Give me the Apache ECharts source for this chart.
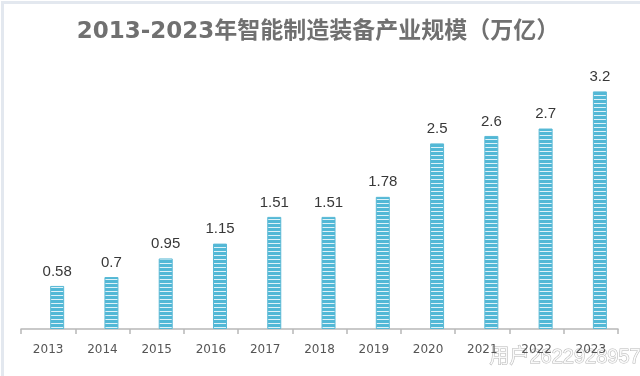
<!DOCTYPE html>
<html>
<head>
<meta charset="utf-8">
<script src="https://cdn.jsdelivr.net/npm/echarts@6/dist/echarts.min.js"></script>
<style>
  html, body { margin: 0; padding: 0; background: #fff; }
  #chart { width: 640px; height: 376px; }
</style>
</head>
<body>
<div id="chart"></div>
<script>
// data
var years = ['2013', '2014', '2015', '2016', '2017', '2018', '2019', '2020', '2021', '2022', '2023'];
var scale = [0.58, 0.7, 0.95, 1.15, 1.51, 1.51, 1.78, 2.5, 2.6, 2.7, 3.2];
var titleText = '2013-2023年智能制造装备产业规模（万亿）';
var watermark = '用户2622928957';

// striped fill for the bars
var stripe = document.createElement('canvas');
stripe.width = 4;
stripe.height = 4;
var sctx = stripe.getContext('2d');
sctx.fillStyle = '#dff2f8';
sctx.fillRect(0, 0, 4, 4);
sctx.fillStyle = '#52b8d6';
sctx.fillRect(0, 0, 4, 3);

var chart = echarts.init(document.getElementById('chart'));

chart.setOption({
  backgroundColor: '#ffffff',
  animation: false,
  title: {
    text: titleText,
    left: 313,
    top: 16,
    textAlign: 'center',
    textStyle: {
      fontFamily: 'DejaVu Sans, Noto Sans CJK SC',
      fontSize: 23,
      fontWeight: 'bold',
      color: '#707070'
    }
  },
  grid: { left: 21, right: 22, top: 32, bottom: 47 },
  xAxis: {
    type: 'category',
    data: years,
    axisLine: { lineStyle: { color: '#b8b8b8', width: 1.5 } },
    axisTick: { show: true, length: 5, lineStyle: { color: '#b8b8b8', width: 1.5 } },
    axisLabel: {
      margin: 15,
      fontFamily: 'DejaVu Sans',
      fontSize: 12,
      color: '#555'
    }
  },
  yAxis: {
    type: 'value',
    min: 0,
    max: 4,
    show: false,
    splitLine: { show: false }
  },
  series: [
    {
      // empty placeholder so the real bars sit right of the category centre
      type: 'bar',
      data: years.map(function () { return null; }),
      barWidth: 14,
      barGap: '29%'
    },
    {
      type: 'bar',
      data: scale,
      barWidth: 14,
      itemStyle: {
        color: { image: stripe, repeat: 'repeat' },
        borderColor: '#5ab9d5',
        borderWidth: 1
      },
      label: {
        show: true,
        position: 'top',
        distance: 7,
        fontFamily: 'Liberation Sans, Arial, sans-serif',
        fontSize: 15,
        color: '#383838'
      }
    }
  ],
  graphic: [
    {
      type: 'rect',
      left: 0,
      top: 0,
      shape: { width: 639, height: 375 },
      style: { fill: 'none', stroke: '#e3e8ef', lineWidth: 3 },
      silent: true
    },
    {
      type: 'text',
      left: 489,
      top: 347,
      style: {
        text: watermark,
        fontFamily: 'Liberation Sans, Noto Sans CJK SC',
        fontSize: 20,
        fill: 'rgba(255,255,255,0.85)',
        stroke: 'rgba(120,120,120,0.55)',
        lineWidth: 1
      },
      silent: true
    }
  ]
});
</script>
</body>
</html>
